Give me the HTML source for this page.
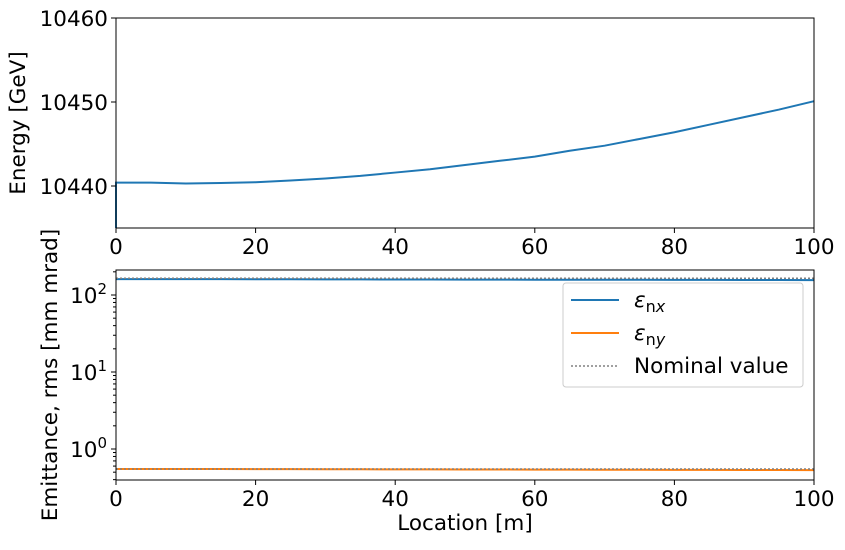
<!DOCTYPE html>
<html><head><meta charset="utf-8"><style>
body{margin:0;background:#fff}
svg text{font-family:"DejaVu Sans","Liberation Sans",sans-serif;fill:#000}
</style></head><body>
<svg width="845" height="545" xmlns="http://www.w3.org/2000/svg">
<g id="top"></g>
<g id="bot"></g>
</svg>
<script>
const locs=[0,5,10,15,20,25,30,35,40,45,50,55,60,65,70,75,80,85,90,95,100];
const energy=[10440.4,10440.4,10440.3,10440.35,10440.45,10440.65,10440.9,10441.2,10441.6,10442.0,10442.5,10443.0,10443.5,10444.2,10444.8,10445.6,10446.4,10447.3,10448.2,10449.1,10450.1];
const enxVals=[161,161,160.5,160.5,160,160,159.5,159.5,159,159,158.5,158.5,158,158,157.5,157.5,157,157,156.5,156.5,156];
const enyVals=[0.55,0.55,0.55,0.549,0.548,0.547,0.546,0.545,0.544,0.543,0.542,0.541,0.54,0.539,0.538,0.537,0.536,0.535,0.534,0.533,0.532];
const nominalX=[165,165];
const nominalY=[0.55,0.55];
const xTicks=[0,20,40,60,80,100];
const eTicks=[10440,10450,10460];
const logTicks=[0,1,2];
const NS="http://www.w3.org/2000/svg";
function mk(p,t,a,txt){const e=document.createElementNS(NS,t);for(const k in a)e.setAttribute(k,a[k]);if(txt!==undefined)e.textContent=txt;p.appendChild(e);return e;}
const L=116,R=814,FS=21.5;
const X=v=>L+(v-0)/100*(R-L);
const T=document.getElementById('top');
const tT=18,tB=228;const Ye=v=>tB-(v-10435)/(10460-10435)*(tB-tT);
let d=`M${X(0)},${tB} L${X(0)},${Ye(energy[0])}`;
locs.forEach((l,i)=>{d+=` L${X(l)},${Ye(energy[i])}`;});
let el=mk(T,'path',{d:d,fill:'none',stroke:'#1f77b4','stroke-width':2});


el=mk(T,'rect',{x:L,y:tT,width:R-L,height:tB-tT,fill:'none',stroke:'#000','stroke-width':1});


xTicks.forEach(v=>{mk(T,'line',{x1:X(v),x2:X(v),y1:tB,y2:tB+5,stroke:'#000'});
 el=mk(T,'text',{x:X(v),y:tB+26,'font-size':FS,'text-anchor':'middle'},v);
 
 });
eTicks.forEach(v=>{mk(T,'line',{x1:L-5,x2:L,y1:Ye(v),y2:Ye(v),stroke:'#000'});
 el=mk(T,'text',{x:L-8,y:Ye(v)+8,'font-size':FS,'text-anchor':'end'},v);
 
 });
el=mk(T,'text',{x:25,y:123,'font-size':FS,'text-anchor':'middle',transform:'rotate(-90 25 123)'},'Energy [GeV]');


const B=document.getElementById('bot');
const bT=270,bB=480;const d0=449,dec=77;
const Yl=v=>d0-Math.log10(v)*dec;
function line(vals,color){let p='';locs.forEach((l,i)=>{p+=(i?' L':'M')+X(l)+','+Yl(vals[i]);});
 return mk(B,'path',{d:p,fill:'none',stroke:color,'stroke-width':2});}
el=line(enxVals,'#1f77b4');
el=line(enyVals,'#ff7f0e');
el=mk(B,'line',{x1:X(0),x2:X(100),y1:Yl(nominalX[0]),y2:Yl(nominalX[1]),stroke:'#808080','stroke-width':1.5,'stroke-dasharray':'2,2'});

el=mk(B,'line',{x1:X(0),x2:X(100),y1:Yl(nominalY[0]),y2:Yl(nominalY[1]),stroke:'#808080','stroke-width':1.5,'stroke-dasharray':'2,2'});

el=mk(B,'rect',{x:L,y:bT,width:R-L,height:bB-bT,fill:'none',stroke:'#000','stroke-width':1});

xTicks.forEach(v=>{mk(B,'line',{x1:X(v),x2:X(v),y1:bB,y2:bB+5,stroke:'#000'});
 el=mk(B,'text',{x:X(v),y:bB+26,'font-size':FS,'text-anchor':'middle'},v);
 });
for(let e=-1;e<=2;e++)for(let m=2;m<=9;m++){const y=Yl(m*Math.pow(10,e));if(y>bT&&y<bB)mk(B,'line',{x1:L-3,x2:L,y1:y,y2:y,stroke:'#000'});}
logTicks.forEach(e=>{const y=Yl(Math.pow(10,e));mk(B,'line',{x1:L-5,x2:L,y1:y,y2:y,stroke:'#000'});
 el=mk(B,'text',{x:L-9,y:y+8,'font-size':FS,'text-anchor':'end'});
 
 el.appendChild(document.createTextNode('10'));mk(el,'tspan',{dy:-9,'font-size':15},String(e));});
el=mk(B,'text',{x:57,y:375,'font-size':FS,'text-anchor':'middle',transform:'rotate(-90 57 375)'},'Emittance, rms [mm mrad]');

el=mk(B,'text',{x:465,y:530,'font-size':FS,'text-anchor':'middle'},'Location [m]');

const G=mk(B,'g',{});

mk(G,'rect',{x:563,y:283,width:240,height:104,rx:3,fill:'#fff',stroke:'#ccc'});
const items=[['ε','nx','#1f77b4',''],['ε','ny','#ff7f0e',''],['Nominal value','','#808080','2,2']];
items.forEach((it,i)=>{const y=300+i*33;
 mk(G,'line',{x1:571,x2:619,y1:y,y2:y,stroke:it[2],'stroke-width':it[3]?1.5:2,'stroke-dasharray':it[3]||'none'});
 const t=mk(G,'text',{x:634,y:y+7,'font-size':FS});
 
 if(it[1]){mk(t,'tspan',{'font-style':'italic'},it[0]);mk(t,'tspan',{dy:5,'font-size':16},'n');mk(t,'tspan',{'font-size':16,'font-style':'italic'},it[1][1]);}
 else t.textContent=it[0];});
</script>
</body></html>
